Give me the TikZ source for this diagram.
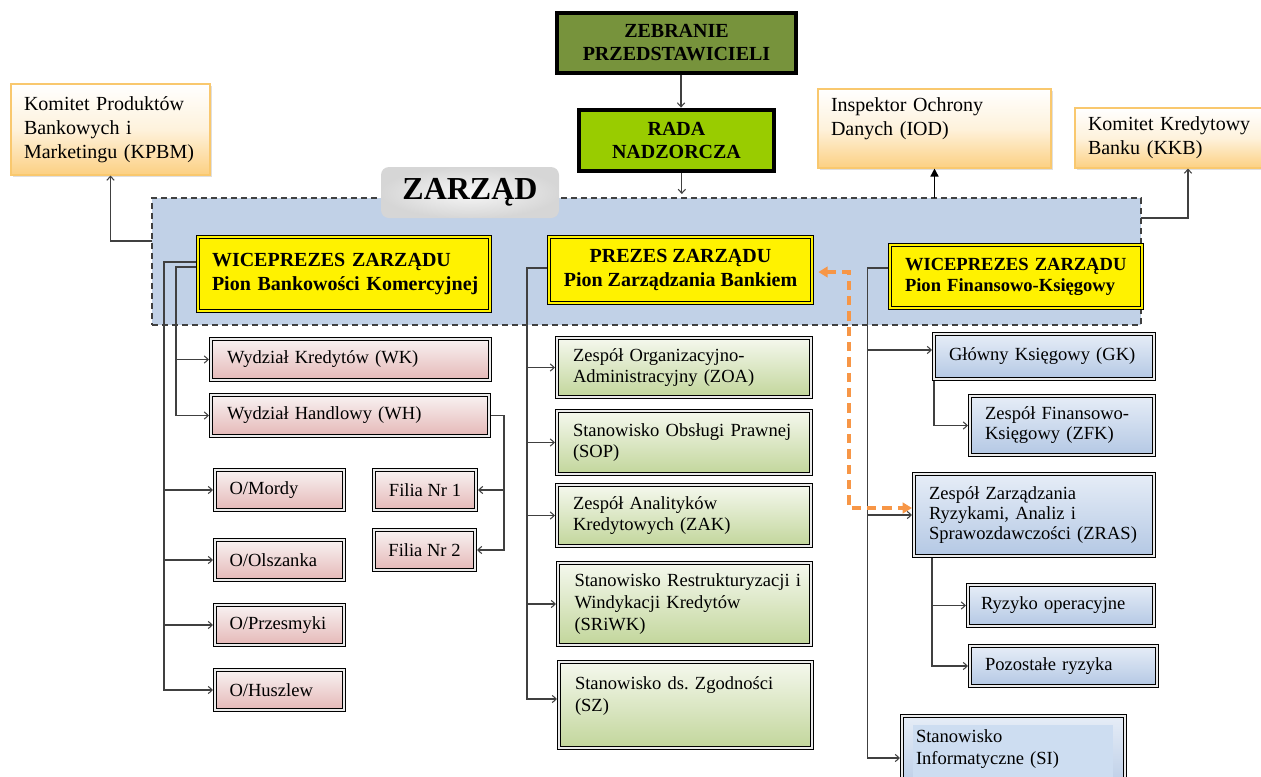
\documentclass[tikz,border=0pt]{standalone}
\usepackage{fontspec}
\setmainfont{Liberation Serif}
\usetikzlibrary{arrows.meta,shadows}

\definecolor{zebrc}{RGB}{119,147,60}
\definecolor{radac}{RGB}{153,204,0}
\definecolor{regionc}{RGB}{193,209,231}
\definecolor{orgline}{RGB}{249,200,110}
\definecolor{orgbot}{RGB}{252,208,130}
\definecolor{orgmid}{RGB}{254,242,220}
\definecolor{pinktop}{RGB}{248,242,242}
\definecolor{pinkbot}{RGB}{229,184,183}
\definecolor{grntop}{RGB}{245,248,238}
\definecolor{grnbot}{RGB}{194,214,155}
\definecolor{blutop}{RGB}{230,237,247}
\definecolor{blubot}{RGB}{180,200,228}
\definecolor{linec}{RGB}{64,64,64}
\definecolor{dashorange}{RGB}{247,150,70}
\definecolor{siinner}{RGB}{205,221,241}

% \mybox{name}{style}{x1}{y1}{x2}{y2}{text}  (pixel coordinates, y downward)
\newcommand\mybox[7]{%
  \pgfmathsetmacro\myboxw{(#5-#3)*0.75}%
  \pgfmathsetmacro\myboxh{(#6-#4)*0.75}%
  \node[#2, minimum width=\myboxw pt, minimum height=\myboxh pt]
    (#1) at ({(#3+#5)/2},{(#4+#6)/2}) {#7};}

\tikzset{
  every node/.append style={inner sep=0pt, outer sep=0pt},
  orgbox/.style={draw=orgline, line width=0.8pt, outer sep=0.4pt,
    top color=white, bottom color=orgbot, middle color=orgmid,
    drop shadow={shadow xshift=1.2pt, shadow yshift=-1.2pt, opacity=0.25},
    font=\fontsize{15}{18}\selectfont, align=left},
  topbox/.style={draw=black, line width=3.6pt, outer sep=1.8pt,
    font=\fontsize{15}{17.25}\selectfont\bfseries, align=center},
  yelbox/.style={draw=black, line width=1pt, double=yellow, double distance=1.6pt,
    fill=yellow, outer sep=1.8pt, font=\fontsize{15}{18}\selectfont\bfseries},
  dblbox/.style={draw=black, line width=0.85pt, double=white!92!black,
    double distance=1.3pt, outer sep=1.5pt,
    font=\fontsize{13.9}{16.3}\selectfont, align=left},
  pinkbox/.style={dblbox, top color=pinktop, bottom color=pinkbot},
  grnbox/.style={dblbox, top color=grntop, bottom color=grnbot},
  blubox/.style={dblbox, top color=blutop, bottom color=blubot,
    font=\fontsize{13.9}{15}\selectfont},
  regionbox/.style={draw=linec, line width=1.1pt, dash pattern=on 4.5pt off 3pt,
    fill=regionc},
  lblbox/.style={rounded corners=6pt, inner color=gray!6, outer color=gray!32,
    font=\fontsize{24}{28}\selectfont\bfseries},
  conn/.style={draw=linec, line width=0.9pt},
  arr/.style={conn, -{Straight Barb[length=3pt,width=5.5pt,line width=0.8pt]}},
  arrI/.style={draw=black, line width=1.2pt, -{Triangle[length=6pt,width=6pt]}},
  odash/.style={draw=dashorange, line width=2.4pt, dash pattern=on 7pt off 4.5pt,
    {Triangle[length=7pt,width=8pt]}-{Triangle[length=7pt,width=8pt]}},
}

\begin{document}
\begin{tikzpicture}[x=0.75pt,y=-0.75pt]
\useasboundingbox (0,0) rectangle (1261,776);

% Zarzad region
\mybox{zarzad}{regionbox}{152}{198}{1141}{325}{}
\mybox{lbl}{lblbox}{381}{167}{559}{218}{ZARZĄD}

% top boxes
\mybox{zebr}{topbox, fill=zebrc}{557}{13}{796}{73}{ZEBRANIE\\PRZEDSTAWICIELI}
\mybox{rada}{topbox, fill=radac}{579}{110}{774}{171}{RADA\\NADZORCZA}

% orange boxes
\mybox{kpbm}{orgbox, text width=129.75pt}{11}{84}{210}{175}
  {Komitet Produktów\\Bankowych i\\Marketingu (KPBM)}
\mybox{iod}{orgbox, text width=155.25pt}{818}{89}{1051}{168}
  {Inspektor Ochrony\\Danych (IOD)\\\mbox{}}
\mybox{kkb}{orgbox, text width=150pt}{1075}{108}{1301}{168}
  {Komitet Kredytowy\\Banku (KKB)}

% yellow boxes
\mybox{wicel}{yelbox, text width=198pt, align=left}{198}{237}{490}{311}
  {\mbox{WICEPREZES ZARZĄDU}\\\mbox{Pion Bankowości Komercyjnej}}
\mybox{prezes}{yelbox, align=center}{549}{237}{812}{303}
  {PREZES ZARZĄDU\\Pion Zarządzania Bankiem}
\mybox{wicer}{yelbox, text width=166.5pt, align=left,
  font=\fontsize{13.9}{15.75}\selectfont\bfseries}{890}{245}{1142}{308}
  {\mbox{WICEPREZES ZARZĄDU}\\\mbox{Pion Finansowo-Księgowy}}

% left column
\mybox{wk}{pinkbox, text width=185.25pt}{211}{339}{490}{380}{Wydział Kredytów (WK)}
\mybox{wh}{pinkbox, text width=184.5pt}{211}{395}{489}{436}{Wydział Handlowy (WH)}
\mybox{mordy}{pinkbox, text width=75pt}{215}{470}{344}{510}{O/Mordy}
\mybox{olsz}{pinkbox, text width=75pt}{215}{540}{344}{580}{O/Olszanka}
\mybox{przes}{pinkbox, text width=75pt}{215}{605}{344}{645}{\mbox{O/Przesmyki}}
\mybox{husz}{pinkbox, text width=75pt}{215}{670}{344}{710}{O/Huszlew}
\mybox{filia1}{pinkbox, align=center}{374}{470}{476}{510}{Filia Nr 1}
\mybox{filia2}{pinkbox, align=center}{374}{530}{475}{570}{Filia Nr 2}

% middle column
\mybox{zoa}{grnbox, text width=166.5pt}{557}{338}{811}{397}
  {\mbox{Zespół Organizacyjno-}\\Administracyjny (ZOA)}
\mybox{sop}{grnbox, text width=166.5pt}{557}{411}{811}{474}
  {\mbox{Stanowisko Obsługi Prawnej}\\(SOP)}
\mybox{zak}{grnbox, text width=166.5pt}{557}{485}{811}{546}
  {Zespół Analityków\\Kredytowych (ZAK)}
\mybox{sriwk}{grnbox, text width=165pt}{558}{563}{811}{645}
  {\mbox{Stanowisko Restrukturyzacji i}\\Windykacji Kredytów\\(SRiWK)}
\mybox{sz}{grnbox, text width=165.75pt}{559}{662}{812}{748}
  {\mbox{Stanowisko ds.\ Zgodności}\\(SZ)\\\mbox{}}

% right column
\mybox{gk}{blubox, text width=142.5pt}{934}{334}{1154}{379}{\mbox{Główny Księgowy (GK)}}
\mybox{zfk}{blubox, text width=115.5pt}{970}{396}{1154}{455}
  {\mbox{Zespół Finansowo-}\\Księgowy (ZFK)}
\mybox{zras}{blubox, text width=157.5pt}{914}{474}{1154}{556}
  {Zespół Zarządzania\\Ryzykami, Analiz i\\\mbox{Sprawozdawczości (ZRAS)}}
\mybox{ryz}{blubox, text width=120pt}{968}{585}{1154}{626}{\mbox{Ryzyko operacyjne}}
\mybox{poz}{blubox, text width=117.75pt}{970}{646}{1157}{686}{\mbox{Pozostałe ryzyka}}
\mybox{si}{blubox, text width=146.25pt, font=\fontsize{13.9}{16.3}\selectfont,
  path picture={\fill[siinner] ([xshift=8pt,yshift=-6.5pt]path picture bounding box.north west)
    rectangle ([xshift=-9pt]path picture bounding box.south east);}}{902}{716}{1125}{800}
  {Stanowisko\\Informatyczne (SI)\\\mbox{}}

% connectors top
\draw[arr] ([xshift=3.4pt]zebr.south) -- ([xshift=3.4pt]zebr.south |- rada.north);
\draw[arr] ([xshift=4pt]rada.south) -- ([xshift=4pt,yshift=3pt]rada.south |- zarzad.north);
\draw[arr] ([yshift=-32.25pt]zarzad.north west) -| (kpbm.south);
\draw[arrI] (zarzad.north -| iod.south) -- (iod.south);
\draw[arr] ([yshift=-15pt]zarzad.north east) -| (kkb.south);

% left branch
\coordinate (sL) at ([xshift=-36.75pt]husz.west);
\draw[arr] ([yshift=9pt]wicel.west) -| (sL) -- (husz.west);
\draw[arr] (sL |- mordy.west) -- (mordy.west);
\draw[arr] (sL |- olsz.west) -- (olsz.west);
\draw[arr] (sL |- przes.west) -- (przes.west);
\coordinate (sL2) at ([xshift=-24.75pt]wh.west);
\draw[arr] ([yshift=5.25pt]wicel.west) -| (sL2) -- (wh.west);
\draw[arr] (sL2 |- wk.west) -- (wk.west);
\coordinate (sF) at ([xshift=9.75pt]wh.east);
\draw[arr] (wh.east) -- (sF) |- (filia2.east);
\draw[arr] (sF |- filia1.east) -- (filia1.east);

% middle branch
\coordinate (sM) at ([xshift=-21pt]zoa.west);
\coordinate (szin) at ([yshift=4.5pt]sz.west);
\draw[arr] ([yshift=1.5pt]prezes.west) -| (sM |- szin) -- (szin);
\draw[arr] (sM |- zoa.west) -- (zoa.west);
\draw[arr] (sM |- sop.west) -- (sop.west);
\draw[arr] (sM |- zak.west) -- (zak.west);
\draw[arr] (sM |- sriwk.west) -- (sriwk.west);

% right branch
\coordinate (sR) at ([xshift=-15pt]wicer.west);
\coordinate (gkin) at ([yshift=4.9pt]gk.west);
\draw[arr] ([yshift=6.4pt]wicer.west) -| (sR |- si.west) -- (si.west);
\draw[arr] (sR |- gkin) -- (gkin);
\draw[arr] (sR |- zras.west) -- (zras.west);
\draw[arr] ([xshift=1.5pt]gk.south west) |- (zfk.west);
\coordinate (sZ) at ([xshift=15pt]zras.south west);
\draw[arr] (sZ) |- (poz.west);
\draw[arr] (sZ |- ryz.west) -- (ryz.west);

% orange dashed link
\coordinate (zin) at ([yshift=5.25pt]zras.west);
\draw[odash, shorten <=3pt] ([yshift=-1.5pt]prezes.east) -| ([xshift=-47.25pt]zin) -- (zin);
\end{tikzpicture}
\end{document}
